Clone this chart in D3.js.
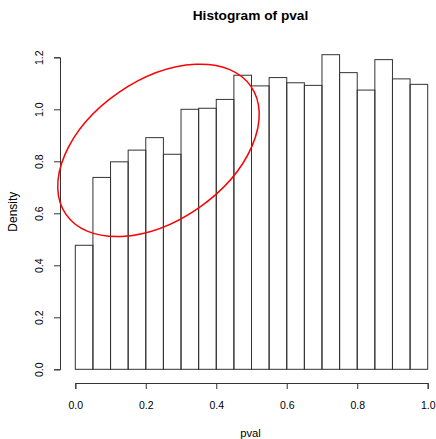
<!DOCTYPE html>
<html>
<head>
<meta charset="utf-8">
<script src="https://cdn.jsdelivr.net/npm/d3@7"></script>
<style>
  html, body { margin: 0; padding: 0; background: #fff; }
  svg { display: block; font-family: "Liberation Sans", Arial, Helvetica, sans-serif; }
</style>
</head>
<body>
<svg id="chart" width="436" height="439"></svg>
<script>
// Histogram bins: break points (width 0.05) and density per bin
const breaks = d3.range(0, 1.0001, 0.05).map(v => +v.toFixed(2));
const density = [0.477, 0.738, 0.798, 0.843, 0.891, 0.827, 1.000, 1.004, 1.038, 1.131,
                 1.090, 1.122, 1.102, 1.092, 1.210, 1.141, 1.074, 1.191, 1.117, 1.096];
const xTicks = [0, 0.2, 0.4, 0.6, 0.8, 1.0];
const yTicks = [0, 0.2, 0.4, 0.6, 0.8, 1.0, 1.2];

// Highlight ellipse around the low p-value bins (center in data units, radii in px)
const ellipseCenter = [0.236, 0.842];
const ellipseRadii = [112.5, 70.2];
const ellipseAngle = -34.7;

const svg = d3.select("#chart");
const x = d3.scaleLinear().domain([0, 1]).range([75.3, 427.7]);
const y = d3.scaleLinear().domain([0, 1.2]).range([369.3, 57.3]);

const bins = density.map((d, i) => ({ x0: breaks[i], x1: breaks[i + 1], d }));

// Bars
svg.append("g")
  .selectAll("rect")
  .data(bins)
  .join("rect")
  .attr("x", b => x(b.x0))
  .attr("y", b => y(b.d))
  .attr("width", b => x(b.x1) - x(b.x0))
  .attr("height", b => y(0) - y(b.d))
  .attr("fill", "none")
  .attr("stroke", "#333")
  .attr("stroke-width", 1);

// X axis (offset below the bars)
const xAxis = svg.append("g")
  .attr("transform", "translate(0,383)")
  .call(d3.axisBottom(x).tickValues(xTicks).tickFormat(d3.format(".1f")).tickSize(6).tickPadding(13));
xAxis.select(".domain").attr("stroke", "#333");
xAxis.selectAll(".tick line").attr("stroke", "#333");
xAxis.selectAll("text").attr("font-size", 10.5).attr("fill", "#000")
  .attr("font-family", "Liberation Sans, Arial, sans-serif");

// Y axis (offset left of the bars) with rotated labels
const yAxis = svg.append("g")
  .attr("transform", "translate(60,0)")
  .call(d3.axisLeft(y).tickValues(yTicks).tickFormat(d3.format(".1f")).tickSize(6));
yAxis.select(".domain").attr("stroke", "#333");
yAxis.selectAll(".tick line").attr("stroke", "#333");
yAxis.selectAll("text")
  .attr("font-size", 10.5).attr("fill", "#000")
  .attr("font-family", "Liberation Sans, Arial, sans-serif")
  .attr("x", null).attr("dy", null)
  .attr("text-anchor", "middle")
  .attr("transform", "translate(-17.3,0) rotate(-90)");

// Titles
svg.append("text")
  .attr("x", 250.5).attr("y", 20)
  .attr("text-anchor", "middle")
  .attr("font-size", 13.7).attr("font-weight", "bold")
  .text("Histogram of pval");

svg.append("text")
  .attr("x", 250.5).attr("y", 436.5)
  .attr("text-anchor", "middle")
  .attr("font-size", 11.3)
  .text("pval");

svg.append("text")
  .attr("transform", "translate(16.7,211.7) rotate(-90)")
  .attr("text-anchor", "middle")
  .attr("font-size", 12)
  .text("Density");

// Red ellipse annotation
svg.append("ellipse")
  .attr("transform", `translate(${x(ellipseCenter[0])},${y(ellipseCenter[1])}) rotate(${ellipseAngle})`)
  .attr("rx", ellipseRadii[0]).attr("ry", ellipseRadii[1])
  .attr("fill", "none")
  .attr("stroke", "#ff0000")
  .attr("stroke-width", 1.5);
</script>
</body>
</html>
